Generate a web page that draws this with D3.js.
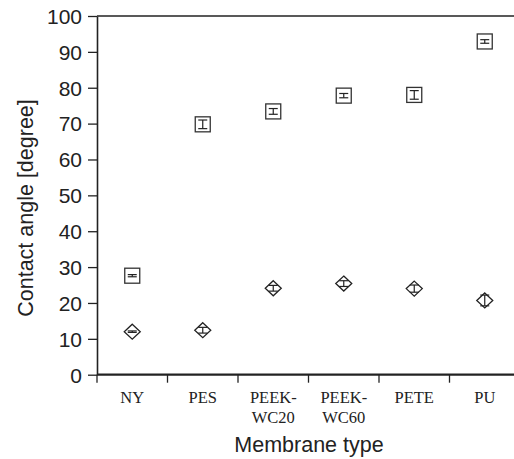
<!DOCTYPE html>
<html><head><meta charset="utf-8">
<script src="https://cdn.jsdelivr.net/npm/d3@7"></script>
<style>body{margin:0;background:#fff}svg{display:block}</style>
</head><body>
<svg id="c" width="514" height="459"></svg>
<script>
const categories = [["NY"],["PES"],["PEEK-","WC20"],["PEEK-","WC60"],["PETE"],["PU"]];
const squareValues = [27.6, 69.8, 73.4, 77.8, 78.0, 92.9];
const squareErrors = [0.3, 1.2, 0.8, 0.6, 1.2, 0.5];
const diamondValues = [12.0, 12.4, 24.1, 25.4, 24.0, 20.7];
const diamondErrors = [0.2, 0.8, 0.8, 0.8, 1.0, 1.5];
const yTicks = [0,10,20,30,40,50,60,70,80,90,100];

(function(){
const svg = d3.select("#c");
const mLeft = 97, mTop = 16, mBottom = 374.7, mRight = 520;
const keys = categories.map((c,i)=>i);
const x = d3.scaleBand().domain(keys).range([mLeft, mRight]);
const y = d3.scaleLinear().domain([0,100]).range([mBottom, mTop]);

// top frame line
svg.append("line").attr("x1", mLeft).attr("x2", 514).attr("y1", mTop).attr("y2", mTop)
  .attr("stroke", "#222").attr("stroke-width", 1.6);

// y axis
const ya = svg.append("g").attr("transform", `translate(${mLeft},0)`)
  .call(d3.axisLeft(y).tickValues(yTicks).tickSize(9).tickPadding(6).tickSizeOuter(0));
ya.select(".domain").attr("stroke", "#222").attr("stroke-width", 1.6);
ya.selectAll(".tick line").attr("stroke", "#222").attr("stroke-width", 1.3);
ya.selectAll(".tick text").attr("font-family", "Liberation Sans, Arial, sans-serif")
  .attr("font-size", 21).attr("fill", "#222").attr("dy", "0.35em");

// x axis
const xa = svg.append("g").attr("transform", `translate(0,${mBottom})`);
xa.append("line").attr("x1", mLeft).attr("x2", 514).attr("y1", 0).attr("y2", 0)
  .attr("stroke", "#222").attr("stroke-width", 2.2);
keys.forEach(k => {
  xa.append("line").attr("x1", x(k)).attr("x2", x(k)).attr("y1", 0).attr("y2", 8)
    .attr("stroke", "#222").attr("stroke-width", 1.3);
  const t = xa.append("text").attr("x", x(k) + x.bandwidth()/2).attr("y", 28)
    .attr("text-anchor", "middle").attr("font-family", "Liberation Serif, Times New Roman, serif")
    .attr("font-size", 16.5).attr("fill", "#222");
  categories[k].forEach((line, j) => {
    t.append("tspan").attr("x", x(k) + x.bandwidth()/2).attr("dy", j === 0 ? 0 : 20).text(line);
  });
});

// axis titles
svg.append("text").attr("x", 309).attr("y", 452).attr("text-anchor", "middle")
  .attr("font-family", "Liberation Sans, Arial, sans-serif").attr("font-size", 21.5)
  .attr("fill", "#222").text("Membrane type");
svg.append("text").attr("transform", "translate(33,208) rotate(-90)").attr("text-anchor", "middle")
  .attr("font-family", "Liberation Sans, Arial, sans-serif").attr("font-size", 21.5)
  .attr("fill", "#222").text("Contact angle [degree]");

const cx = k => x(k) + x.bandwidth()/2;
function errBar(g, k, v, e) {
  const px = cx(k), y1 = y(v + e), y2 = y(v - e);
  g.append("line").attr("x1", px).attr("x2", px).attr("y1", y1).attr("y2", y2)
    .attr("stroke", "#222").attr("stroke-width", 1.2);
  [y1, y2].forEach(yy => g.append("line").attr("x1", px - 4.5).attr("x2", px + 4.5)
    .attr("y1", yy).attr("y2", yy).attr("stroke", "#222").attr("stroke-width", 1.2));
}

const marks = svg.append("g");
keys.forEach(k => {
  const px = cx(k), py = y(squareValues[k]);
  marks.append("rect").attr("x", px - 7.5).attr("y", py - 7.5).attr("width", 15).attr("height", 15)
    .attr("fill", "#fff").attr("stroke", "#333").attr("stroke-width", 1.3);
  errBar(marks, k, squareValues[k], squareErrors[k]);
});
keys.forEach(k => {
  const px = cx(k), py = y(diamondValues[k]);
  marks.append("path").attr("d", `M${px},${py-7.5}L${px+8},${py}L${px},${py+7.5}L${px-8},${py}Z`)
    .attr("fill", "#fff").attr("stroke", "#222").attr("stroke-width", 1.3);
  errBar(marks, k, diamondValues[k], diamondErrors[k]);
});
})();
</script>
</body></html>
